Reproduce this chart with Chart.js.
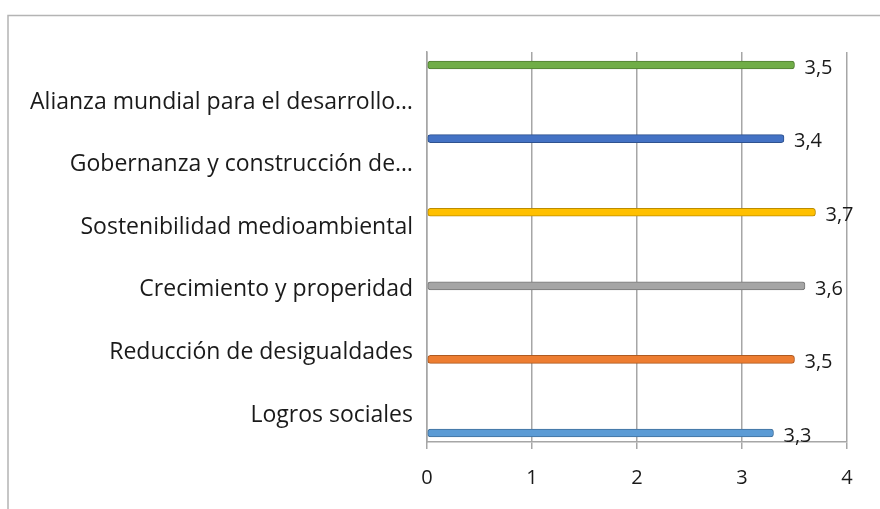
<!DOCTYPE html>
<html>
<head>
<meta charset="utf-8">
<script src="https://cdn.jsdelivr.net/npm/chart.js@4/dist/chart.umd.min.js"></script>
<style>
  html, body { margin: 0; padding: 0; background: #fff; }
  #wrap { width: 880px; height: 509px; }
</style>
</head>
<body>
<div id="wrap"><canvas id="chart"></canvas></div>
<script>
// bottom to top, as in the picture
const categories = [
  'Logros sociales',
  'Reducción de desigualdades',
  'Crecimiento y properidad',
  'Sostenibilidad medioambiental',
  'Gobernanza y construcción de…',
  'Alianza mundial para el desarrollo…'
];
const values = [3.3, 3.5, 3.6, 3.7, 3.4, 3.5];
const xTicks = [0, 1, 2, 3, 4];

const fills = ['#5B9BD5', '#ED7D31', '#A5A5A5', '#FFC000', '#4472C4', '#70AD47'];
const edges = ['#41719C', '#AE5A21', '#787878', '#BC8C00', '#2F528F', '#507E32'];

const fontFamily = '"Open Sans", "DejaVu Sans", sans-serif';

// outer frame of the chart object
const framePlugin = {
  id: 'frame',
  beforeDraw(chart) {
    const ctx = chart.ctx;
    ctx.save();
    ctx.strokeStyle = '#b4b4b4';
    ctx.lineWidth = 1.5;
    ctx.beginPath();
    ctx.moveTo(8, 520);
    ctx.lineTo(8, 15.5);
    ctx.lineTo(890, 15.5);
    ctx.stroke();
    ctx.restore();
  }
};

// value labels at the end of each bar
const valueLabels = {
  id: 'valueLabels',
  afterDatasetsDraw(chart) {
    const ctx = chart.ctx;
    const meta = chart.getDatasetMeta(0);
    ctx.save();
    ctx.font = '20px ' + fontFamily;
    ctx.fillStyle = '#1a1a1a';
    ctx.textBaseline = 'middle';
    ctx.textAlign = 'left';
    meta.data.forEach((bar, i) => {
      const txt = String(values[i]).replace('.', ',');
      ctx.fillText(txt, bar.x + 10, bar.y + 3);
    });
    ctx.restore();
  }
};

new Chart(document.getElementById('chart'), {
  type: 'bar',
  data: {
    datasets: [{
      data: values.map((v, i) => ({ x: v, y: i })),
      backgroundColor: fills,
      borderColor: edges,
      borderWidth: 1,
      borderRadius: 3,
      borderSkipped: false,
      barThickness: 8,
      yAxisID: 'y'
    }]
  },
  options: {
    indexAxis: 'y',
    responsive: true,
    maintainAspectRatio: false,
    animation: false,
    layout: { padding: { top: 52, right: 33, left: 0, bottom: 0 } },
    plugins: {
      legend: { display: false },
      tooltip: { enabled: false }
    },
    scales: {
      x: {
        type: 'linear',
        min: 0,
        max: 4,
        afterBuildTicks: s => { s.ticks = xTicks.map(v => ({ value: v })); },
        afterFit: s => { s.height = 67; },
        border: { display: true, color: '#a6a6a6', width: 1.5 },
        grid: {
          color: '#a6a6a6',
          lineWidth: 1.5,
          drawTicks: true,
          tickLength: 7,
          tickColor: '#a6a6a6'
        },
        ticks: {
          color: '#1a1a1a',
          padding: 17,
          font: { family: fontFamily, size: 20 }
        }
      },
      y: {
        type: 'linear',
        display: false,
        offset: false,
        min: -0.122,
        max: 5.177
      },
      y2: {
        type: 'linear',
        position: 'left',
        offset: false,
        min: -0.43,
        max: 5.80,
        afterBuildTicks: s => { s.ticks = categories.map((c, i) => ({ value: i })); },
        afterFit: s => { s.width = 427; },
        border: { display: true, color: '#a6a6a6', width: 1.5 },
        grid: { display: false, drawTicks: false, offset: false },
        ticks: {
          color: '#1a1a1a',
          padding: 14,
          font: { family: fontFamily, size: 23 },
          callback: v => categories[v]
        }
      }
    }
  },
  plugins: [framePlugin, valueLabels]
});
</script>
</body>
</html>
